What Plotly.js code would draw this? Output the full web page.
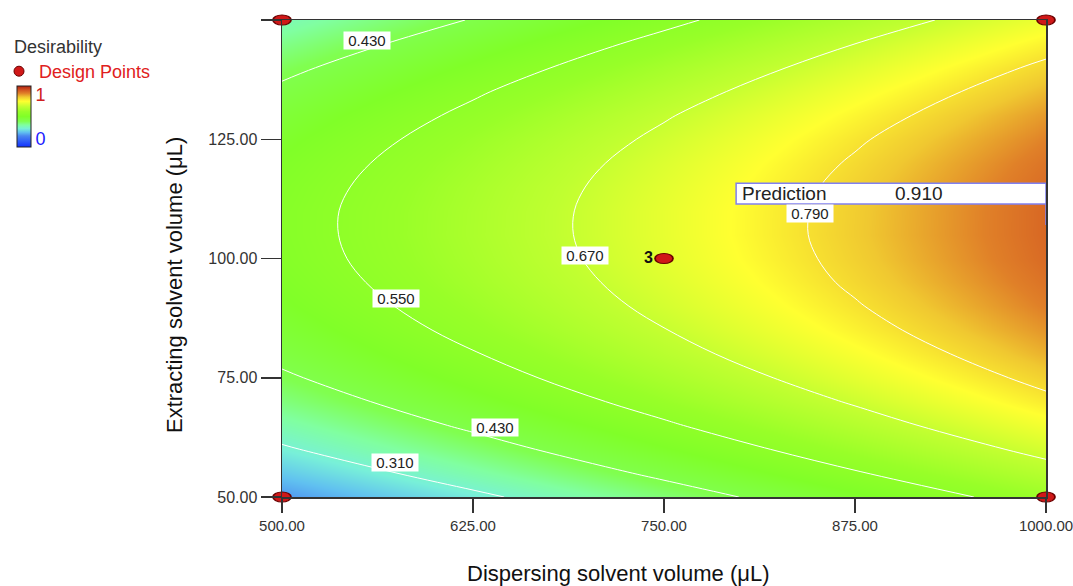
<!DOCTYPE html>
<html>
<head>
<meta charset="utf-8">
<script src="https://cdn.plot.ly/plotly-3.0.1.min.js"></script>
<style>
  html, body { margin: 0; padding: 0; background: #ffffff; }
  #chart { width: 1073px; height: 586px; }
</style>
</head>
<body>
<div id="chart"></div>
<script>
// ---- Data ----
const dispersingVolume = [500, 625, 750, 875, 1000];           // x (µL)
const extractingVolume = [50, 55, 60, 65, 70, 75, 80, 85, 90, 95, 100,
                          105, 110, 115, 120, 125, 130, 135, 140, 145, 150]; // y (µL)
// desirability estimated on the grid above (rows = extracting volume, cols = dispersing volume)
const desirability = [
  [0.197, 0.294, 0.392, 0.489, 0.587],
  [0.251, 0.349, 0.446, 0.544, 0.641],
  [0.301, 0.398, 0.496, 0.593, 0.691],
  [0.345, 0.443, 0.540, 0.638, 0.735],
  [0.385, 0.482, 0.580, 0.677, 0.775],
  [0.419, 0.517, 0.614, 0.712, 0.809],
  [0.449, 0.546, 0.644, 0.741, 0.839],
  [0.473, 0.571, 0.668, 0.766, 0.863],
  [0.493, 0.590, 0.688, 0.785, 0.883],
  [0.507, 0.605, 0.702, 0.800, 0.897],
  [0.517, 0.614, 0.712, 0.809, 0.907],
  [0.521, 0.619, 0.716, 0.814, 0.911],
  [0.521, 0.618, 0.716, 0.813, 0.911],
  [0.515, 0.613, 0.710, 0.808, 0.905],
  [0.505, 0.602, 0.700, 0.797, 0.895],
  [0.489, 0.587, 0.684, 0.782, 0.879],
  [0.469, 0.566, 0.664, 0.761, 0.859],
  [0.443, 0.541, 0.638, 0.736, 0.833],
  [0.413, 0.510, 0.608, 0.705, 0.803],
  [0.377, 0.475, 0.572, 0.670, 0.767],
  [0.337, 0.434, 0.532, 0.629, 0.727]
];
const contourLevels = [0.31, 0.43, 0.55, 0.67, 0.79];

// design points
const designX = [500, 500, 1000, 1000, 750];
const designY = [50, 150, 50, 150, 100];
const designLabels = ['', '', '', '', '3'];

// prediction flag
const predictionX = 1000;
const predictionY = 107;
const predictionValue = 0.910;

// tick labels
const xTickVals = [500, 625, 750, 875, 1000];
const xTickText = ['500.00', '625.00', '750.00', '875.00', '1000.00'];
const yTickVals = [50, 75, 100, 125, 150];
const yTickText = ['50.00', '75.00', '100.00', '125.00', ''];

// ---- Styling ----
const FONT = 'Arial, "Liberation Sans", sans-serif';
const colorscale = [
  [0.00, '#1030ff'], [0.18, '#4a86f0'], [0.24, '#60c0f0'], [0.30, '#78f0d8'],
  [0.36, '#80ffa0'], [0.42, '#80ff50'], [0.50, '#80ff28'], [0.58, '#98ff28'],
  [0.66, '#c0ff30'], [0.75, '#ffff30'], [0.82, '#f0c830'], [0.88, '#e08028'],
  [0.94, '#d05020'], [1.00, '#b02010']
];

const heat = {
  type: 'heatmap',
  x: dispersingVolume, y: extractingVolume, z: desirability,
  zmin: 0, zmax: 1, zsmooth: 'best',
  colorscale: colorscale,
  hoverinfo: 'skip', showlegend: false,
  showscale: true,
  colorbar: {
    x: (17 - 282) / 764, xanchor: 'left', xpad: 0,
    y: (497 - 86) / 477, yanchor: 'top', ypad: 0,
    len: 61, lenmode: 'pixels', thickness: 14, thicknessmode: 'pixels',
    outlinecolor: '#222', outlinewidth: 1, borderwidth: 0,
    ticks: '', tickvals: [0.13, 0.85], ticklabelpad: 3,
    ticktext: ['<span style="color:#2020ff">0</span>', '<span style="color:#d02020">1</span>'],
    tickfont: { family: FONT, size: 18 }
  }
};

const lines = {
  type: 'contour',
  x: dispersingVolume, y: extractingVolume, z: desirability,
  autocontour: false,
  contours: { start: contourLevels[0], end: contourLevels[contourLevels.length - 1],
              size: contourLevels[1] - contourLevels[0], coloring: 'none', showlabels: false },
  line: { color: '#ffffff', width: 1, smoothing: 1 },
  showscale: false, showlegend: false, hoverinfo: 'skip'
};

const points = {
  type: 'scatter', mode: 'markers',
  x: designX, y: designY,
  name: 'Design Points',
  marker: { color: '#d01818', size: 10, line: { color: '#6a0000', width: 1 } },
  cliponaxis: false, showlegend: true, hoverinfo: 'skip'
};

const pointLabels = {
  type: 'scatter', mode: 'markers+text',
  x: designX, y: designY, text: designLabels,
  textposition: 'middle left',
  textfont: { family: FONT, size: 16, color: '#111', weight: 'bold' },
  marker: { size: 16, opacity: 0 },
  cliponaxis: false, showlegend: false, hoverinfo: 'skip'
};

function contourLabel(txt, x, y) {
  return { text: ' ' + txt + ' ', x: x, y: y, xref: 'x', yref: 'y', showarrow: false,
           bgcolor: '#ffffff', borderpad: 0,
           font: { family: FONT, size: 15, color: '#222' } };
}

const layout = {
  width: 1073, height: 586,
  margin: { l: 282, r: 27, t: 20, b: 89, pad: 0, autoexpand: false },
  paper_bgcolor: '#ffffff', plot_bgcolor: '#ffffff',
  font: { family: FONT, color: '#333' },
  xaxis: {
    range: [500, 1000], showgrid: false, zeroline: false,
    showline: true, mirror: true, linecolor: '#333', linewidth: 1.5,
    ticks: 'outside', ticklen: 14, tickcolor: '#333', tickwidth: 1.5,
    tickvals: xTickVals, ticktext: xTickText, ticklabeloverflow: 'allow',
    tickfont: { family: FONT, size: 15, color: '#333' }
  },
  yaxis: {
    range: [50, 150], showgrid: false, zeroline: false,
    showline: true, mirror: true, linecolor: '#333', linewidth: 1.5,
    ticks: 'outside', ticklen: 20, tickcolor: '#333', tickwidth: 1.5,
    tickvals: yTickVals, ticktext: yTickText, ticklabeloverflow: 'allow',
    tickfont: { family: FONT, size: 16, color: '#333' }
  },
  showlegend: true,
  legend: {
    x: (-1 - 282) / 764, xanchor: 'left',
    y: (497 - 53) / 477, yanchor: 'top',
    bgcolor: 'rgba(0,0,0,0)', borderwidth: 0,
    font: { family: FONT, size: 18, color: '#e02020' },
    itemwidth: 30
  },
  shapes: [
    { type: 'rect', xref: 'x', yref: 'y',
      x0: 797.2, x1: predictionX, y0: 111.4, y1: 115.8,
      fillcolor: '#ffffff', line: { color: '#8080f0', width: 1.5 }, layer: 'above' },
    { type: 'line', xref: 'x', yref: 'y',
      x0: predictionX, x1: predictionX, y0: predictionY, y1: 111.4,
      line: { color: '#8080f0', width: 1.5 }, layer: 'above' }
  ],
  annotations: [
    contourLabel('0.430', 555.6, 145.8),
    contourLabel('0.550', 574.6, 91.7),
    contourLabel('0.670', 698.0, 100.7),
    contourLabel('0.790', 845.5, 109.5),
    contourLabel('0.430', 639.4, 64.5),
    contourLabel('0.310', 574.0, 57.3),
    { text: 'Prediction', x: 799.5, y: 113.6, xref: 'x', yref: 'y', xanchor: 'left',
      showarrow: false, font: { family: FONT, size: 19, color: '#222' } },
    { text: predictionValue.toFixed(3), x: 917, y: 113.6, xref: 'x', yref: 'y', xanchor: 'center',
      showarrow: false, font: { family: FONT, size: 19, color: '#222' } },
    { text: 'Desirability', x: (12 - 282) / 764, y: (497 - 47) / 477, xref: 'paper', yref: 'paper',
      xanchor: 'left', yanchor: 'middle', showarrow: false,
      font: { family: FONT, size: 18, color: '#333' } },
    { text: 'Dispersing solvent volume (μL)', x: (618 - 282) / 764, y: (497 - 573) / 477,
      xref: 'paper', yref: 'paper', xanchor: 'center', yanchor: 'middle', showarrow: false,
      font: { family: FONT, size: 22, color: '#111' } },
    { text: 'Extracting solvent volume (μL)', x: (174 - 282) / 764, y: (497 - 285) / 477,
      xref: 'paper', yref: 'paper', xanchor: 'center', yanchor: 'middle', showarrow: false,
      textangle: -90, font: { family: FONT, size: 22, color: '#111' } }
  ]
};

Plotly.newPlot('chart', [heat, lines, points, pointLabels], layout,
  { displayModeBar: false, staticPlot: true }).then(function (gd) {
  // stretch design-point markers into ellipses as in the reference
  const traces = gd.querySelectorAll('.cartesianlayer .scatterlayer .trace');
  if (traces.length) {
    traces[0].querySelectorAll('path.point').forEach(function (p) {
      const t = p.getAttribute('transform') || '';
      p.setAttribute('transform', t + ' scale(1.8,1)');
    });
  }
});
</script>
</body>
</html>
